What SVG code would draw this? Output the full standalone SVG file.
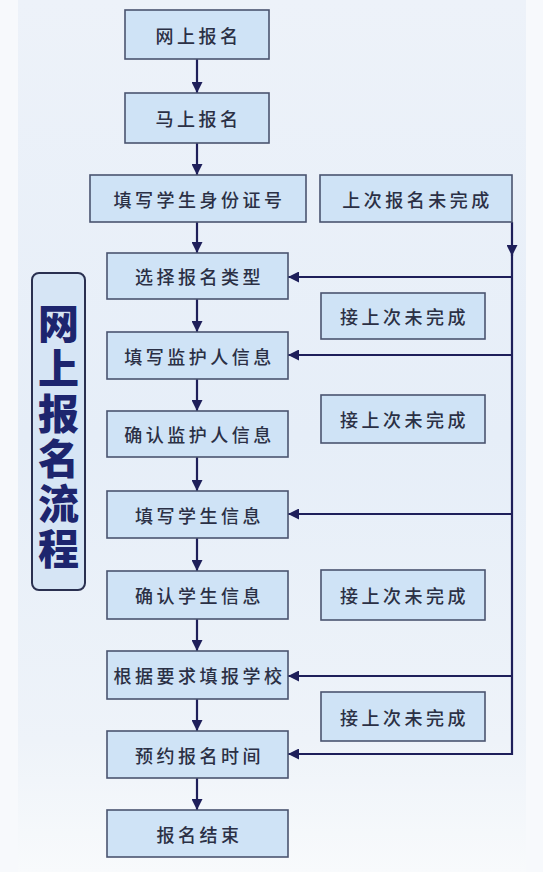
<svg xmlns="http://www.w3.org/2000/svg" width="543" height="872" viewBox="0 0 543 872">
<defs>
<linearGradient id="bg" x1="0" y1="0" x2="0" y2="1">
<stop offset="0" stop-color="#edf2f9"/>
<stop offset="0.5" stop-color="#e6eef8"/>
<stop offset="0.85" stop-color="#eef3f9"/>
<stop offset="1" stop-color="#f8fafc"/>
</linearGradient>
<marker id="ah" viewBox="0 0 10 10" refX="10" refY="5" markerWidth="11" markerHeight="11" markerUnits="userSpaceOnUse" orient="auto">
<path d="M0,0 L10,5 L0,10 Z" fill="#1e1f5a"/>
</marker>
<style>
.box{fill:#cfe3f6;stroke:#4a5470;stroke-width:1.6}
.lbl{font-family:"Noto Sans CJK SC","Noto Sans",sans-serif;font-size:18px;font-weight:500;fill:#2b3045;text-anchor:middle;dominant-baseline:central;letter-spacing:3.5px}
.ln{stroke:#1e1f5a;stroke-width:2.2;fill:none}
.title{font-family:"Noto Sans CJK SC","Noto Sans",sans-serif;font-size:41px;font-weight:900;fill:#1d256e;text-anchor:middle;writing-mode:vertical-rl;letter-spacing:4px}
</style>
</defs>
<rect x="0" y="0" width="543" height="872" fill="#f7f9fc"/>
<rect x="18" y="0" width="508" height="872" fill="url(#bg)"/>

<g id="connectors">
<line class="ln" x1="197" y1="59" x2="197" y2="93" marker-end="url(#ah)"/>
<line class="ln" x1="197" y1="143" x2="197" y2="175" marker-end="url(#ah)"/>
<line class="ln" x1="197" y1="222" x2="197" y2="253" marker-end="url(#ah)"/>
<line class="ln" x1="197" y1="299" x2="197" y2="332" marker-end="url(#ah)"/>
<line class="ln" x1="197" y1="379" x2="197" y2="411" marker-end="url(#ah)"/>
<line class="ln" x1="197" y1="457" x2="197" y2="491" marker-end="url(#ah)"/>
<line class="ln" x1="197" y1="538" x2="197" y2="571" marker-end="url(#ah)"/>
<line class="ln" x1="197" y1="619" x2="197" y2="651" marker-end="url(#ah)"/>
<line class="ln" x1="197" y1="699" x2="197" y2="731" marker-end="url(#ah)"/>
<line class="ln" x1="197" y1="778" x2="197" y2="810" marker-end="url(#ah)"/>
<line class="ln" x1="512" y1="222" x2="512" y2="256" marker-end="url(#ah)"/>
<path class="ln" d="M512,254 L512,754 L288,754" marker-end="url(#ah)"/>
<line class="ln" x1="512" y1="277" x2="288" y2="277" marker-end="url(#ah)"/>
<line class="ln" x1="512" y1="355" x2="288" y2="355" marker-end="url(#ah)"/>
<line class="ln" x1="512" y1="514" x2="288" y2="514" marker-end="url(#ah)"/>
<line class="ln" x1="512" y1="676" x2="288" y2="676" marker-end="url(#ah)"/>
</g>

<g id="title">
<rect x="32" y="273" width="53" height="317" rx="7" fill="#d6e5f5" stroke="#2a3050" stroke-width="2"/>
<text class="title" x="58.5" y="437.5">网上报名流程</text>
</g>

<g id="n1"><rect class="box" x="125" y="10" width="144" height="49"/><text class="lbl" x="198.5" y="35">网上报名</text></g>
<g id="n2"><rect class="box" x="125" y="93" width="144" height="50"/><text class="lbl" x="198.5" y="118">马上报名</text></g>
<g id="n3"><rect class="box" x="90" y="175" width="216" height="47"/><text class="lbl" x="199.5" y="198.5">填写学生身份证号</text></g>
<g id="n4"><rect class="box" x="320" y="175" width="192" height="47"/><text class="lbl" x="417.5" y="198.5">上次报名未完成</text></g>
<g id="n5"><rect class="box" x="107" y="253" width="181" height="46"/><text class="lbl" x="199.5" y="276">选择报名类型</text></g>
<g id="n6"><rect class="box" x="321" y="293" width="164" height="46"/><text class="lbl" x="404.5" y="316">接上次未完成</text></g>
<g id="n7"><rect class="box" x="107" y="332" width="181" height="47"/><text class="lbl" x="199.5" y="355.5">填写监护人信息</text></g>
<g id="n8"><rect class="box" x="321" y="395" width="164" height="48"/><text class="lbl" x="404.5" y="419">接上次未完成</text></g>
<g id="n9"><rect class="box" x="107" y="411" width="181" height="46"/><text class="lbl" x="199.5" y="434">确认监护人信息</text></g>
<g id="n10"><rect class="box" x="107" y="491" width="181" height="47"/><text class="lbl" x="199.5" y="514.5">填写学生信息</text></g>
<g id="n11"><rect class="box" x="107" y="571" width="181" height="48"/><text class="lbl" x="199.5" y="595">确认学生信息</text></g>
<g id="n12"><rect class="box" x="321" y="570" width="164" height="50"/><text class="lbl" x="404.5" y="595">接上次未完成</text></g>
<g id="n13"><rect class="box" x="107" y="651" width="181" height="48"/><text class="lbl" x="199.5" y="675">根据要求填报学校</text></g>
<g id="n14"><rect class="box" x="321" y="692" width="164" height="49"/><text class="lbl" x="404.5" y="716.5">接上次未完成</text></g>
<g id="n15"><rect class="box" x="107" y="731" width="181" height="47"/><text class="lbl" x="199.5" y="754.5">预约报名时间</text></g>
<g id="n16"><rect class="box" x="107" y="810" width="181" height="47"/><text class="lbl" x="199.5" y="833.5">报名结束</text></g>
</svg>
